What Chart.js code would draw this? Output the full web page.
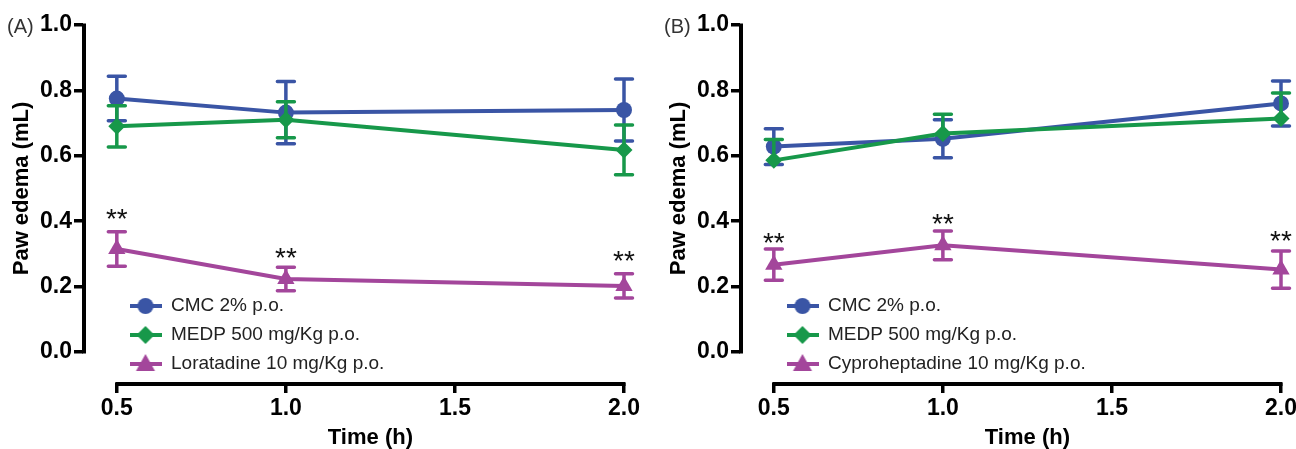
<!DOCTYPE html>
<html>
<head>
<meta charset="utf-8">
<script src="https://cdn.jsdelivr.net/npm/chart.js@4.4.1/dist/chart.umd.min.js"></script>
<style>
  html, body { margin: 0; padding: 0; background: #fff; overflow: hidden; }
  #wrap { position: relative; width: 1296px; height: 449px; overflow: hidden; }
  #wrap canvas { position: absolute; top: 0; }
  #chartA { left: 0; }
  #chartB { left: 657px; }
</style>
</head>
<body>
<div id="wrap">
  <canvas id="chartA" width="648" height="449"></canvas>
  <canvas id="chartB" width="648" height="449"></canvas>
</div>
<script>
// time points and axis ticks
var timeH = [0.5, 1.0, 2.0];
var xTicks = [0.5, 1.0, 1.5, 2.0];
var yTicks = [0.0, 0.2, 0.4, 0.6, 0.8, 1.0];

// panel A: paw edema (mL), mean and SEM
var cmcA = [0.775, 0.732, 0.740];
var cmcA_sem = [0.068, 0.095, 0.095];
var medpA = [0.690, 0.710, 0.618];
var medpA_sem = [0.063, 0.055, 0.076];
var loraA = [0.315, 0.223, 0.202];
var loraA_sem = [0.053, 0.036, 0.037];
var starsA = [0.425, 0.306, 0.297];   // level of the ** marks

// panel B
var cmcB = [0.628, 0.652, 0.760];
var cmcB_sem = [0.055, 0.058, 0.069];
var medpB = [0.586, 0.668, 0.714];
var medpB_sem = [0.064, 0.059, 0.078];  // only the upper bar shows
var cyproB = [0.267, 0.326, 0.252];
var cyproB_sem = [0.048, 0.044, 0.057];
var starsB = [0.352, 0.410, 0.358];

var BLUE = '#3A55A5', GREEN = '#17984A', PURPLE = '#A3469B';
var FONT = "'Liberation Sans', Arial, Helvetica, sans-serif";

Chart.defaults.font.family = FONT;
Chart.defaults.color = '#000';

// little line+marker icon for the legend
function legendIcon(color, shape) {
  var c = document.createElement('canvas');
  c.width = 32; c.height = 20;
  var g = c.getContext('2d');
  g.strokeStyle = color; g.fillStyle = color; g.lineWidth = 4;
  g.beginPath(); g.moveTo(0, 10); g.lineTo(32, 10); g.stroke();
  g.beginPath();
  if (shape === 'circle') {
    g.arc(16, 10, 8, 0, Math.PI * 2);
  } else if (shape === 'rectRot') {
    g.moveTo(7, 10); g.lineTo(16, 1); g.lineTo(25, 10); g.lineTo(16, 19);
  } else {
    g.moveTo(16, 0); g.lineTo(25.5, 17); g.lineTo(6.5, 17);
  }
  g.closePath(); g.fill();
  return c;
}

function series(label, values, color, shape, radius, order) {
  return {
    label: label,
    data: timeH.map(function (t, i) { return { x: t, y: values[i] }; }),
    borderColor: color,
    backgroundColor: color,
    borderWidth: 4,
    pointStyle: shape,
    pointRadius: radius,
    pointBorderWidth: 0,
    pointBackgroundColor: color,
    tension: 0,
    fill: false,
    clip: false,
    order: order
  };
}

function errorBarPlugin(sems, dirs) {
  return {
    id: 'errbars',
    beforeDatasetDraw: function (chart, args) {
      var i = args.index, ds = chart.data.datasets[i], ys = chart.scales.y, ctx = chart.ctx;
      ctx.save();
      ctx.strokeStyle = ds.borderColor;
      ctx.lineWidth = 3.5;
      ctx.lineCap = 'round';
      args.meta.data.forEach(function (pt, j) {
        var v = ds.data[j].y;
        var top = ys.getPixelForValue(v + sems[i][j]);
        var bot = dirs[i] === 'up' ? pt.y : ys.getPixelForValue(v - sems[i][j]);
        ctx.beginPath();
        ctx.moveTo(pt.x, top); ctx.lineTo(pt.x, bot);
        ctx.moveTo(pt.x - 8.5, top); ctx.lineTo(pt.x + 8.5, top);
        if (dirs[i] !== 'up') { ctx.moveTo(pt.x - 8.5, bot); ctx.lineTo(pt.x + 8.5, bot); }
        ctx.stroke();
      });
      ctx.restore();
    }
  };
}

function decorPlugin(panelLabel, stars) {
  return {
    id: 'decor',
    afterLayout: function (chart) {
      // legend sits in the lower left of the plot
      var lg = chart.legend;
      lg.left = chart.chartArea.left + 36.5;
      lg.top = 286.5;
      lg.bottom = chart.height;
    },
    beforeDatasetsDraw: function (chart) {
      var ctx = chart.ctx, xs = chart.scales.x, ys = chart.scales.y;
      ctx.save();
      ctx.strokeStyle = '#000';
      ctx.lineWidth = 4;
      ctx.beginPath();
      var ax = chart.chartArea.left + 1;
      ctx.moveTo(ax, ys.getPixelForValue(yTicks[yTicks.length - 1]) - 1.5);
      ctx.lineTo(ax, ys.getPixelForValue(yTicks[0]) + 1.5);
      var by = chart.chartArea.bottom + 1;
      ctx.moveTo(xs.getPixelForValue(xTicks[0]) - 1.5, by);
      ctx.lineTo(xs.getPixelForValue(xTicks[xTicks.length - 1]) + 1.5, by);
      ctx.stroke();
      ctx.restore();
    },
    afterDraw: function (chart) {
      var ctx = chart.ctx, xs = chart.scales.x, ys = chart.scales.y;
      ctx.save();
      // axis titles
      ctx.fillStyle = '#000';
      ctx.font = 'bold 22px ' + FONT;
      ctx.textAlign = 'center';
      ctx.textBaseline = 'middle';
      var xc = (xs.getPixelForValue(xTicks[0]) + xs.getPixelForValue(xTicks[xTicks.length - 1])) / 2;
      ctx.fillText('Time (h)', xc, 438);
      var yc = (ys.getPixelForValue(yTicks[0]) + ys.getPixelForValue(yTicks[yTicks.length - 1])) / 2;
      ctx.save();
      ctx.translate(22, yc);
      ctx.rotate(-Math.PI / 2);
      ctx.fillText('Paw edema (mL)', 0, 0);
      ctx.restore();
      // panel letter
      ctx.font = '20px ' + FONT;
      ctx.fillStyle = '#333';
      ctx.textAlign = 'left';
      ctx.fillText(panelLabel, 7, 27);
      // significance marks
      ctx.font = '28px ' + FONT;
      ctx.fillStyle = '#111';
      ctx.textAlign = 'center';
      ctx.textBaseline = 'alphabetic';
      timeH.forEach(function (t, i) {
        ctx.fillText('**', xs.getPixelForValue(t), ys.getPixelForValue(stars[i]) + 15.5);
      });
      ctx.restore();
    }
  };
}

function buildPanel(id, panelLabel, sets, sems, dirs, stars) {
  var icons = sets.map(function (s) { return legendIcon(s.borderColor, s.pointStyle); });
  return new Chart(document.getElementById(id), {
    type: 'line',
    data: { datasets: sets },
    options: {
      responsive: false,
      animation: false,
      events: [],
      layout: { padding: { top: 25, right: 24, left: 0, bottom: 0 } },
      scales: {
        x: {
          type: 'linear',
          min: 0.4,
          max: 2.0,
          afterBuildTicks: function (s) { s.ticks = xTicks.map(function (v) { return { value: v }; }); },
          afterFit: function (s) { s.height = 66; },
          ticks: {
            autoSkip: false, maxRotation: 0, padding: 2,
            font: { size: 23, weight: 'bold' },
            callback: function (v) { return v.toFixed(1); }
          },
          grid: { drawOnChartArea: false, drawTicks: true, tickLength: 10, lineWidth: 3.5, color: '#000' },
          border: { display: false }
        },
        y: {
          min: -0.095,
          max: 1.0,
          afterBuildTicks: function (s) { s.ticks = yTicks.map(function (v) { return { value: v }; }); },
          afterFit: function (s) { s.width = 83; },
          ticks: {
            padding: 2,
            font: { size: 23, weight: 'bold' },
            callback: function (v) { return v.toFixed(1); }
          },
          grid: { drawOnChartArea: false, drawTicks: true, tickLength: 9, lineWidth: 3.5, color: '#000' },
          border: { display: false }
        }
      },
      plugins: {
        tooltip: { enabled: false },
        legend: {
          position: 'chartArea',
          align: 'start',
          labels: {
            usePointStyle: true,
            pointStyleWidth: 32,
            padding: 10,
            color: '#222',
            font: { size: 19 },
            sort: function (a, b) { return a.datasetIndex - b.datasetIndex; },
            generateLabels: function (chart) {
              var items = Chart.defaults.plugins.legend.labels.generateLabels(chart);
              items.forEach(function (it) { it.pointStyle = icons[it.datasetIndex]; });
              return items;
            }
          }
        }
      }
    },
    plugins: [errorBarPlugin(sems, dirs), decorPlugin(panelLabel, stars)]
  });
}

buildPanel('chartA', '(A)', [
  series('CMC 2% p.o.', cmcA, BLUE, 'circle', 8, 3),
  series('MEDP 500 mg/Kg p.o.', medpA, GREEN, 'rectRot', 8.5, 2),
  series('Loratadine 10 mg/Kg p.o.', loraA, PURPLE, 'triangle', 10, 1)
], [cmcA_sem, medpA_sem, loraA_sem], ['both', 'both', 'both'], starsA);

buildPanel('chartB', '(B)', [
  series('CMC 2% p.o.', cmcB, BLUE, 'circle', 8, 3),
  series('MEDP 500 mg/Kg p.o.', medpB, GREEN, 'rectRot', 8.5, 2),
  series('Cyproheptadine 10 mg/Kg p.o.', cyproB, PURPLE, 'triangle', 10, 1)
], [cmcB_sem, medpB_sem, cyproB_sem], ['both', 'up', 'both'], starsB);
</script>
</body>
</html>
